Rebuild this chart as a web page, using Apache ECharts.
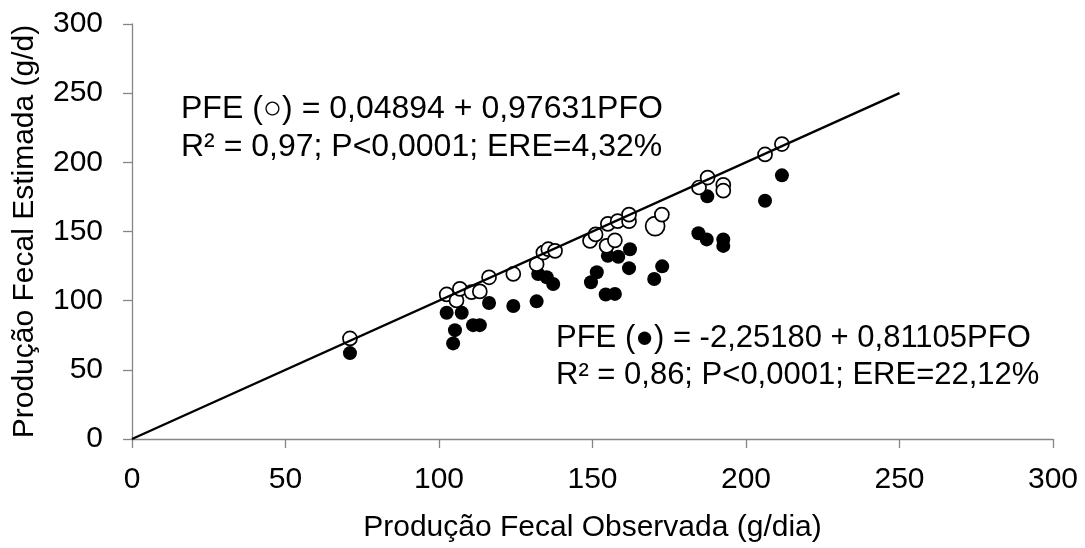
<!DOCTYPE html>
<html>
<head>
<meta charset="utf-8">
<script src="https://cdn.jsdelivr.net/npm/echarts@6/dist/echarts.min.js"></script>
<style>html,body{margin:0;padding:0;background:#fff;}#c{width:1085px;height:548px;}</style>
</head>
<body>
<div id="c"></div>
<script>
// Open circles (○)
const openX = [71.0,102.5,105.7,106.8,110.6,113.3,116.3,124.2,131.8,134.0,135.6,137.8,149.2,151.0,154.6,157.3,155.0,158.2,161.9,161.9,170.4,172.6,184.7,187.5,192.6,192.6,206.2,211.7];
const openY = [72.7,104.5,100.2,108.5,106.2,106.7,116.9,119.3,126.4,134.8,137.2,136.0,143.2,147.9,139.6,143.6,155.5,157.5,157.5,162.2,153.9,162.2,181.8,189.0,183.7,179.5,205.7,213.2];
// Filled circles (●)
const filledX = [71.0,102.5,107.4,105.2,104.6,111.1,113.3,116.3,124.2,131.8,132.3,135.1,137.2,149.5,151.4,154.3,157.3,155.0,158.4,162.2,161.9,170.1,172.7,184.5,187.2,187.4,192.6,192.6,206.2,211.7];
const filledY = [62.1,91.3,91.3,78.7,69.1,82.3,82.3,98.3,96.1,99.5,119.3,116.9,112.1,113.3,120.5,104.5,104.9,132.4,131.7,137.2,123.5,115.7,124.8,148.7,144.3,175.4,144.3,139.6,172.2,190.6];
// 1:1 line
const lineX = [0, 250];
const lineY = [0, 250];
const xTicks = [0,50,100,150,200,250,300];
const yTicks = [0,50,100,150,200,250,300];
const xTitle = 'Produção Fecal Observada (g/dia)';
const yTitle = 'Produção Fecal Estimada (g/d)';
const eq1 = ['PFE (○) = 0,04894 + 0,97631PFO', 'R² = 0,97; P<0,0001; ERE=4,32%'];
const eq2 = ['PFE (●) = -2,25180 + 0,81105PFO', 'R² = 0,86; P<0,0001; ERE=22,12%'];

const FONT = '"Liberation Sans", Arial, sans-serif';
const chart = echarts.init(document.getElementById('c'), null, {renderer:'canvas'});
const openData = openX.map((x,i)=> i===20 ? {value:[x,openY[i]], symbolSize:19} : [x,openY[i]]);
const filledData = filledX.map((x,i)=>[x,filledY[i]]);
const lineData = lineX.map((x,i)=>[x,lineY[i]]);
const axisCommon = {
  interval: 50,
  axisLine:{show:true, lineStyle:{color:'#868686', width:1.3}},
  axisTick:{show:true, inside:false, length:9, lineStyle:{color:'#868686', width:1.3}},
  splitLine:{show:false},
  axisLabel:{color:'#000', fontSize:30, fontFamily:FONT},
  nameLocation:'middle',
  nameTextStyle:{color:'#000', fontSize:30, fontFamily:FONT}
};
chart.setOption({
  animation:false,
  backgroundColor:'#fff',
  grid:{left:132, right:32, top:24, bottom:105, containLabel:false},
  xAxis:Object.assign({}, axisCommon, {type:'value', name:xTitle, nameGap:74,
    min:xTicks[0], max:xTicks[xTicks.length-1],
    axisLabel:Object.assign({}, axisCommon.axisLabel, {margin:26})}),
  yAxis:Object.assign({}, axisCommon, {type:'value', name:yTitle, nameGap:92,
    min:yTicks[0], max:yTicks[yTicks.length-1],
    axisLabel:Object.assign({}, axisCommon.axisLabel, {margin:29})}),
  series:[
    {type:'scatter', data:filledData, symbol:'circle', symbolSize:14,
      itemStyle:{color:'#000', opacity:1}, z:2},
    {type:'scatter', data:openData, symbol:'circle', symbolSize:14,
      itemStyle:{color:'#fff', borderColor:'#000', borderWidth:1.7, opacity:1}, z:3},
    {type:'line', data:lineData, symbol:'none', lineStyle:{color:'#000', width:2.4}, z:4}
  ],
  graphic:[
    {type:'text', left:181, top:90, style:{text:eq1.join('\n'), font:'32px '+FONT, fill:'#000', lineHeight:38}},
    {type:'text', left:556, top:320, style:{text:eq2.join('\n'), font:'31px '+FONT, fill:'#000', lineHeight:37}}
  ]
});
</script>
</body>
</html>
